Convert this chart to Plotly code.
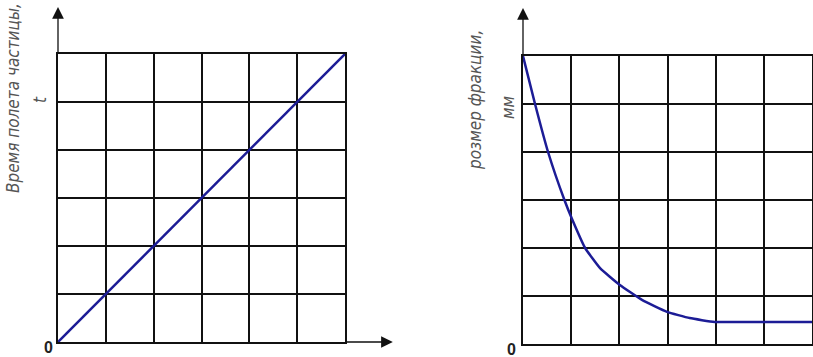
import plotly.graph_objects as go

# data
lin_x = [0, 6]
lin_y = [0, 6]

size_x = [0, 0.25, 0.52, 0.86, 1.02, 1.29, 1.6, 2.01, 2.47, 2.99, 3.46, 3.98, 5, 6]
size_y = [6.0, 5.0, 4.0, 3.0, 2.6, 2.0, 1.58, 1.23, 0.92, 0.67, 0.54, 0.46, 0.46, 0.46]

left_label = "Время полета частицы,"
left_unit = "t"
right_label = "розмер фракции,"
right_unit = "мм"
origin_label = "0"

W, H = 813, 357
line_color = "#1c1c96"
grid_color = "#111111"

fig = go.Figure()
fig.add_trace(go.Scatter(x=lin_x, y=lin_y, mode="lines", xaxis="x", yaxis="y",
                         line=dict(color=line_color, width=2.5), showlegend=False, hoverinfo="skip"))
fig.add_trace(go.Scatter(x=size_x, y=size_y, mode="lines", xaxis="x2", yaxis="y2",
                         line=dict(color=line_color, width=2.5, shape="spline", smoothing=0.4),
                         showlegend=False, hoverinfo="skip"))

ax_common = dict(range=[0, 6], dtick=1, tick0=0, showgrid=True, gridcolor=grid_color, gridwidth=1.5,
                 showline=True, linecolor=grid_color, linewidth=1.5, mirror=True,
                 showticklabels=False, ticks="", zeroline=False, fixedrange=True)

fig.update_layout(
    width=W, height=H, margin=dict(l=0, r=0, t=0, b=0),
    paper_bgcolor="white", plot_bgcolor="white",
    xaxis=dict(domain=[58 / W, 345 / W], anchor="y", **ax_common),
    yaxis=dict(domain=[(H - 342) / H, (H - 54) / H], anchor="x", **ax_common),
    xaxis2=dict(domain=[523 / W, 812 / W], anchor="y2", **ax_common),
    yaxis2=dict(domain=[(H - 344) / H, (H - 56) / H], anchor="x2", **ax_common),
)

arrow = dict(showarrow=True, arrowhead=2, arrowsize=1.8, arrowwidth=1.3, arrowcolor=grid_color, text="")
annotations = [
    dict(xref="x", yref="y", axref="x", ayref="y", x=0, y=6.98, ax=0, ay=6, **arrow),
    dict(xref="x", yref="y", axref="x", ayref="y", x=7.0, y=0, ax=6, ay=0, **arrow),
    dict(xref="x2", yref="y2", axref="x2", ayref="y2", x=0, y=7.0, ax=0, ay=6, **arrow),
]

lab_font = dict(family="DejaVu Sans Condensed, DejaVu Sans", size=17, color="#555555", style="italic")
annotations += [
    dict(xref="paper", yref="paper", x=13 / W, y=(H - 98) / H, text=left_label, textangle=-90,
         showarrow=False, font=lab_font, xanchor="center", yanchor="middle"),
    dict(xref="paper", yref="paper", x=40 / W, y=(H - 100) / H, text=left_unit, textangle=-90,
         showarrow=False, font=lab_font, xanchor="center", yanchor="middle"),
    dict(xref="paper", yref="paper", x=475 / W, y=(H - 100) / H, text=right_label, textangle=-90,
         showarrow=False, font=lab_font, xanchor="center", yanchor="middle"),
    dict(xref="paper", yref="paper", x=508 / W, y=(H - 108) / H, text=right_unit, textangle=-90,
         showarrow=False, font=lab_font, xanchor="center", yanchor="middle"),
]
zero_font = dict(family="Liberation Sans, Arial", size=16, color="#222222", weight="bold")
annotations += [
    dict(xref="paper", yref="paper", x=48 / W, y=(H - 347) / H, text=origin_label, showarrow=False,
         font=zero_font, xanchor="center", yanchor="middle"),
    dict(xref="paper", yref="paper", x=511 / W, y=(H - 349) / H, text=origin_label, showarrow=False,
         font=zero_font, xanchor="center", yanchor="middle"),
]
fig.update_layout(annotations=annotations)

fig.write_html("out.html", config={"displayModeBar": False},
               post_script="document.body.style.margin='0';document.body.style.overflow='hidden';")
